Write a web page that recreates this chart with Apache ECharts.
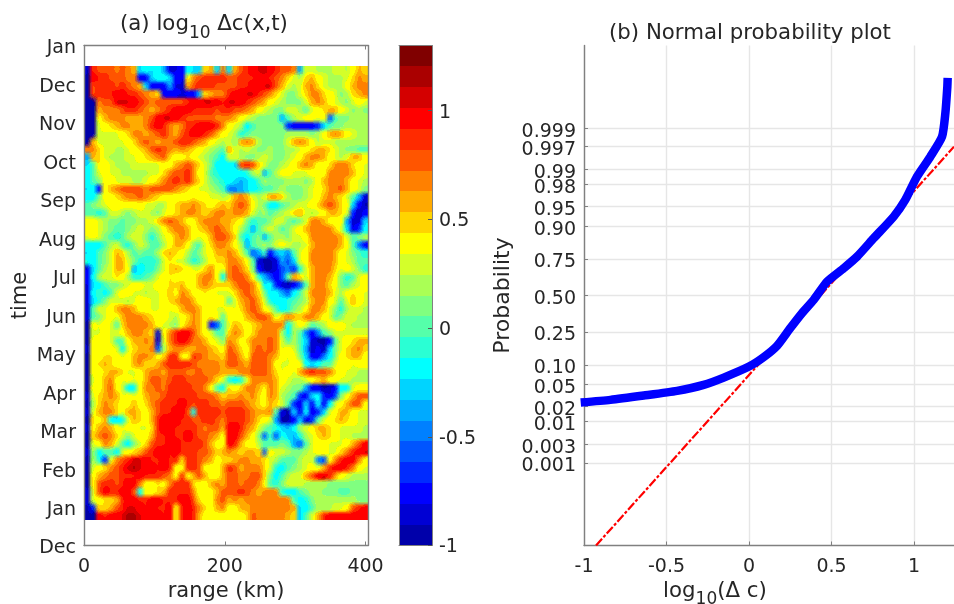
<!DOCTYPE html>
<html><head><meta charset="utf-8">
<style>html,body{margin:0;padding:0;background:#fff}#c{width:954px;height:604px}</style>
<script src="https://cdn.jsdelivr.net/npm/echarts@6/dist/echarts.min.js"></script>
</head><body>
<svg width="0" height="0" style="position:absolute"><filter id="soft" x="0" y="0" width="100%" height="100%" color-interpolation-filters="sRGB">
<feGaussianBlur stdDeviation="2"/>
<feComponentTransfer>
<feFuncR type="discrete" tableValues="0 .1647 .3333 .502 .6667 .8314 1"/>
<feFuncG type="discrete" tableValues="0 .1647 .3333 .502 .6667 .8314 1"/>
<feFuncB type="discrete" tableValues="0 .1647 .3333 .502 .6667 .8314 1"/>
<feFuncA type="discrete" tableValues="0 1 1 1 1 1 1 1"/>
</feComponentTransfer></filter></svg>
<div id="c"></div>
<script>
const monthLabels = ["Dec","Jan","Feb","Mar","Apr","May","Jun","Jul","Aug","Sep","Oct","Nov","Dec","Jan"];
const rangeTicks = [0,200,400];
const colorTicks = [-1,-0.5,0,0.5,1];
const levelColors = ["#0000aa","#0000d4","#0000ff","#002aff","#0055ff","#0080ff","#00aaff","#00d4ff","#00ffff","#2affd4","#55ffaa","#80ff80","#aaff55","#d4ff2a","#ffff00","#ffd400","#ffaa00","#ff8000","#ff5500","#ff2a00","#ff0000","#d40000","#aa0000","#800000"];
const levelValues = [-0.95,-0.86,-0.76,-0.66,-0.57,-0.47,-0.38,-0.28,-0.19,-0.09,0.01,0.10,0.20,0.29,0.39,0.49,0.58,0.68,0.77,0.87,0.97,1.06,1.16,1.25];
const levelCodes = "abcdefghijklmnopqrstuvwx";
const heatRows = [
"btsssrsrqhihigbbcihhpqhrhqstuvwutssrgnnmmmnnmoqp",
"auttsssrrcchiihccorsttttsstttuutsrpnmpqonmmmnprq",
"astttstsrqhcccgbbqstttssssttuuvvsqnmnqrpnmmmoqrr",
"astttuuttsrqpcccbccgpqrrtuuvvtsrpnllnprrponlmpqr",
"aarssvvvutsrssssstuuvvutvvutsrqonmlllnqrqonmlnon",
"aaqrrrsttsrqrstuuuttttsttssrqonmllnnmknopqqonlml",
"aaoqrrrqqqrsuvvutsssssrrrqonmllllgkmnoonoekllmmm",
"aanopqrrqqrtutrqrttuuutronmhkllllldccccdhkllmmmm",
"aannnnoprrqrstrqstuutsqonmjkllllllmmmmlmoqrqonmm",
"aqnnnnnoprsrqrrsttsrqonmnlqrqmllllnqrqomnnmmmmmm",
"rrpnnmmnopqstsrqrqponmlkqnmnmllmllmmnopqqpnmllkk",
"gqpnmmmnnopqrspooponmlkinnmllmnmllmnoqrrqonmnqqo",
"hkponmmmnnnnnooqrsrpnliiihstspnllmnoqrqonprrrpon",
"iknonnmmmmmnnprsstronkjhiiijmngkmoonnnonorrrrqon",
"iklponnnmmnoprststrpnlkjihghikmlllmmmlmoqrrrqonm",
"hicoqrssssrssssrqponnmlkffghijkklmlllmnoprrsqonl",
"iiloopqrrsrqpoonoopoonnmnqrqnmnqqpmllmnoqrqpnkgb",
"klmnoooooonnmmopqqrqpopqprsromliiklmnnoprsrpohca",
"kkjknnmlmnnmlnopqrrqpqrrqrrqnlmklmnpqnmnoqqpndac",
"oonmllkllmmnprsrqonqrrrqqpoljkklnnlklnrrqooogbbh",
"opnmlkklmnmlmoqrrqopqrsrqomkgkmnmklnoqrrrrpnhbdi",
"nonlkjkmnnljlnoqrqonoqssrpkhklgkmmlnnorrrrrqnklm",
"ihikmnkjlnmkkmoqqolknprrqomgklmlnonmmnqrrrrqokfc",
"hiklnqpmklkkmpqpomklnoqqrqnkegkcghfknorrrrqonlkj",
"jiklnqqnljjjknpnnljkmopprrqokbaabgehnorrrrqonmkk",
"bhkmnqqogijjlnpqponnpronrsrplcaabefdjnqrrrpnonlj",
"cimnnpomjjklnopnonoqrroirssrojgecekqpnqrrqoljkno",
"bhikllmnoonnooppqooqrqppprssrohidbacekqrrpolkmno",
"bikiknoonnmnnoqorqooponnnprsrplhigeiknrrrqnmopon",
"bhjlnnnmnoonnopqrrqoopooknqrsqnjhijklmqrronknqon",
"bknnoqrrqoonnonoqrrqoonnonprsronkijlmorrqnljmnnm",
"bklnonqrrrqpoonmoprqopokoooqrssrnprqprrqonklnnmm",
"aononkprrrrqonmloqrqoceknqpopqrrrrimonklmooonmmm",
"annonnoqrrqpbortuusqonkkprqoprrrrmhmkfcfklnnnnnn",
"aooonkkoqqrqbnrtutrrqonlrqoprrrsrnkmkhbaacknopqq",
"bonooninpqqremqrrqqrrqposrporsrsrnonkgacahlnpqrp",
"aoopponoqrrqopttontsrqqpssqosssrqonolhcbfilopqqo",
"aopqpoooqrppqsttttsrrrrqssrqsssronnpoihikknoonoo",
"aoopqqpnnoqrrqsssrrsrrrqqqrrsssrpnonqstssrponnmm",
"anoqrononoqssrsttssssrpnjijnrrrrqonmmnopqoonnmmm",
"aonqsoniiorrsrttttssrokipoprrqorqnmllgccabciinoo",
"bnpqrqnonoqrrstttttsssrpqqrqrpnrqmlkdchidbeloqss",
"amprqponqoprstttutsttssrsssrqpoqpnkdbhbicinoqsso",
"bnqrrpnqqpoqsttuusittttstttsrqqrkbahbibdhnoqqonn",
"apoqihinqpoqtuuuttssttsrtttsrpongaachbdknopqponn",
"boqrqonoonnptuuttttsrssquutrqnlkjhgimnoqqponnnnm",
"aprsrpnlnooqttuttutssrqouusqolekejhgjmnpqponnmmm",
"anorqnkilnpsttuuttttsqooutqoomkkklkgeknoonnnoqsu",
"bmikkinopqstuututttssrpqrqpqqpeonnmllmnoonnprtuv",
"amjdnrstvvuttuttpttsrqoppqrrqqpnmkkkmnnfeortuuro",
"anoprstvwvuututnottsonoqtsqrrrpnjiklmnonqtuvtron",
"aoqrsstttutttsrotnqsqooqssrrssplikmnnqsuvtqonmmm",
"aosttstuuroopnrtttpnoqrqssrssrokjlnnnmmmmlllllll",
"bnsuttuusionpqttttronoqssstsrqrrrjiiklmmlllkklll",
"bnoppqtuuttuutttuuspnorsqrqrrrrrrrrkijlmmmmmmmll",
"adppqstvvututtuntutrpoqrnoqqrrrrrrrqhikmmmnnostu",
"aautuuvwwvtuutuotutqoonoonopsrrrrrqphknqtuuuuuuu"
];
const rangeSpan = [0,403.5];
const monthSpan = [0.67,12.47];
const curveX = [-1.02,-0.84,-0.638,-0.436,-0.275,-0.153,0,0.089,0.17,0.25,0.321,0.392,0.473,0.574,0.655,0.756,0.877,0.947,1.018,1.099,1.17,1.19,1.202,1.204];
const curveZ = [-1.977,-1.928,-1.848,-1.761,-1.651,-1.516,-1.313,-1.139,-0.931,-0.604,-0.327,-0.081,0.257,0.504,0.718,1.058,1.457,1.765,2.195,2.565,2.934,3.366,3.857,4.018];
const fitX = [-0.927,1.2424];
const fitZ = [-4.618,2.749];
const probLabels = ["0.001","0.003","0.01","0.02","0.05","0.10","0.25","0.50","0.75","0.90","0.95","0.98","0.99","0.997","0.999"];
const probScores = [-3.09,-2.748,-2.326,-2.054,-1.645,-1.282,-0.674,0,0.674,1.282,1.645,2.054,2.326,2.748,3.09];
const probRange = [-4.618,4.618];
const plotXTicks = [-1,-0.5,0,0.5,1];

const FONT = 'DejaVu Sans', INK = '#262626', AXC = '#808080', GRIDC = '#e6e6e6';
const cells = [];
const nRows = heatRows.length;
heatRows.forEach((row, r) => {
  const nCols = row.length;
  const dx = (rangeSpan[1]-rangeSpan[0])/48, dy = (monthSpan[1]-monthSpan[0])/nRows;
  for (let c = 0; c < nCols; c++) {
    const lv = levelCodes.indexOf(row[c]);
    cells.push([rangeSpan[0]+c*dx, monthSpan[1]-r*dy, rangeSpan[0]+(c+1)*dx, monthSpan[1]-(r+1)*dy, levelValues[lv], lv]);
  }
});
const bandEdge = 2.3/24;
const bands = levelValues.map((v,i)=>[0, -1+i*bandEdge, 1, -1+(i+1)*bandEdge, v, i]);
function rectItem(params, api){
  const a = api.coord([api.value(0), api.value(1)]);
  const b = api.coord([api.value(2), api.value(3)]);
  const x = Math.round(a[0]), y = Math.round(a[1]), x2 = Math.round(b[0]), y2 = Math.round(b[1]);
  return {type:'rect', shape:{x:Math.min(x,x2), y:Math.min(y,y2), width:Math.abs(x2-x), height:Math.abs(y2-y)},
    style:{fill:levelColors[api.value(5)]}};
}
const line = {onZero:false,lineStyle:{color:AXC,width:1.4}};
const thin = {onZero:false,lineStyle:{color:AXC,width:1}};
const baseLabel = {color:INK,fontSize:19,fontFamily:FONT,showMinLabel:true,showMaxLabel:true};
const rich = {
  b:{fontSize:21.3,color:INK,fontFamily:FONT,fontWeight:'normal',lineHeight:21},
  s:{fontSize:17,color:INK,fontFamily:FONT,fontWeight:'normal',lineHeight:17,padding:[18,0,0,0]}
};
const option = {
  animation:false,
  textStyle:{fontFamily:FONT},
  title:[
    {text:'{b|(a) log}{s|10}{b| Δc(x,t)}', left:120, top:14, textStyle:{rich,fontWeight:'normal'}, padding:0},
    {text:'(b) Normal probability plot', left:609, top:23, padding:0, textStyle:{fontSize:21.3,fontWeight:'normal',color:INK,fontFamily:FONT}}
  ],
  grid:[
    {left:84,top:45.5,width:284,height:500,outerBoundsMode:'none'},
    {left:399,top:45.5,width:33,height:500,outerBoundsMode:'none'},
    {left:584,top:45.5,width:370,height:500,outerBoundsMode:'none'}
  ],
  xAxis:[
    {type:'value',gridIndex:0,min:rangeSpan[0],max:rangeSpan[1],position:'bottom',
     axisLine:line,splitLine:{show:false},
     axisTick:{show:true,inside:true,length:4,customValues:rangeTicks,lineStyle:{color:AXC}},
     axisLabel:{...baseLabel,margin:12,customValues:rangeTicks,formatter:v=>String(v)},
     name:'range (km)',nameLocation:'middle',nameGap:36,nameTextStyle:{fontSize:21,color:INK,fontFamily:FONT}},
    {type:'value',gridIndex:0,min:rangeSpan[0],max:rangeSpan[1],position:'top',
     axisLine:line,splitLine:{show:false},
     axisTick:{show:true,inside:true,length:4,customValues:rangeTicks,lineStyle:{color:AXC}},
     axisLabel:{show:false}},
    {type:'value',gridIndex:1,min:0,max:1,position:'bottom',z:5,axisLine:thin,axisTick:{show:false},axisLabel:{show:false},splitLine:{show:false}},
    {type:'value',gridIndex:1,min:0,max:1,position:'top',z:5,axisLine:thin,axisTick:{show:false},axisLabel:{show:false},splitLine:{show:false}},
    {type:'value',gridIndex:2,min:-1,max:1.2424,position:'bottom',
     axisLine:line,
     splitLine:{show:true,lineStyle:{color:GRIDC,width:1.4}},
     axisTick:{show:true,inside:true,length:4,customValues:plotXTicks,lineStyle:{color:AXC}},
     axisLabel:{...baseLabel,margin:12,customValues:plotXTicks,formatter:v=>String(v)},
     name:'{b|log}{s|10}{b|(Δ c)}',nameLocation:'middle',nameGap:35,nameMoveOverlap:false,nameTextStyle:{rich,padding:[0,108,0,0]}}
  ],
  yAxis:[
    {type:'value',gridIndex:0,min:0,max:13,interval:1,position:'left',
     axisLine:line,axisTick:{show:false},splitLine:{show:false},
     axisLabel:{...baseLabel,margin:8,verticalAlign:'top',lineHeight:6,formatter:v=>monthLabels[v]},
     name:'time',nameLocation:'middle',nameGap:53,nameTextStyle:{fontSize:21,color:INK,fontFamily:FONT}},
    {type:'value',gridIndex:0,min:0,max:13,interval:1,position:'right',
     axisLine:line,axisTick:{show:false},splitLine:{show:false},axisLabel:{show:false}},
    {type:'value',gridIndex:1,min:-1,max:1.3,position:'right',z:5,
     axisLine:thin,splitLine:{show:false},
     axisTick:{show:true,inside:true,length:4,customValues:colorTicks,lineStyle:{color:'#555'}},
     axisLabel:{...baseLabel,margin:7,verticalAlign:'top',lineHeight:4,customValues:colorTicks,formatter:v=>String(v)}},
    {type:'value',gridIndex:1,min:-1,max:1.3,position:'left',z:5,
     axisLine:thin,axisTick:{show:false},splitLine:{show:false},axisLabel:{show:false}},
    {type:'value',gridIndex:2,min:probRange[0],max:probRange[1],position:'left',
     axisLine:line,
     splitLine:{show:true,lineStyle:{color:GRIDC,width:1.4}},
     axisTick:{show:true,inside:true,length:4,customValues:probScores,lineStyle:{color:AXC}},
     axisLabel:{...baseLabel,margin:8,verticalAlign:'top',lineHeight:7,customValues:[probRange[0],...probScores,probRange[1]],
       formatter:v=>{const i=probScores.findIndex(s=>Math.abs(s-v)<1e-6);return i<0?'':probLabels[i];}},
     name:'Probability',nameLocation:'middle',nameGap:70,nameTextStyle:{fontSize:22,color:INK,fontFamily:FONT}}
  ],
  series:[
    {type:'custom',xAxisIndex:0,yAxisIndex:0,data:cells,renderItem:rectItem,progressive:0,silent:true,clip:true,zlevel:-1},
    {type:'custom',xAxisIndex:2,yAxisIndex:2,data:bands,renderItem:rectItem,progressive:0,silent:true},
    {type:'line',xAxisIndex:4,yAxisIndex:4,data:fitX.map((x,i)=>[x,fitZ[i]]),symbol:'none',z:3,
     lineStyle:{color:'#ff0000',width:2.2,type:[9,2,3,2]}},
    {type:'line',xAxisIndex:4,yAxisIndex:4,data:curveX.map((x,i)=>[x,curveZ[i]]),symbol:'none',z:4,clip:false,smooth:0.2,
     lineStyle:{color:'#0000ff',width:8.5,join:'round',cap:'butt'}}
  ]
};
const chart = echarts.init(document.getElementById('c'),null,{renderer:'canvas'});
chart.setOption(option);
const heatLayer = document.querySelector('canvas[data-zr-dom-id="zr_-1"]');
if (heatLayer) { heatLayer.style.filter = 'url(#soft)'; heatLayer.style.clipPath = 'inset(66px 586px 84px 84px)'; }
</script></body></html>
